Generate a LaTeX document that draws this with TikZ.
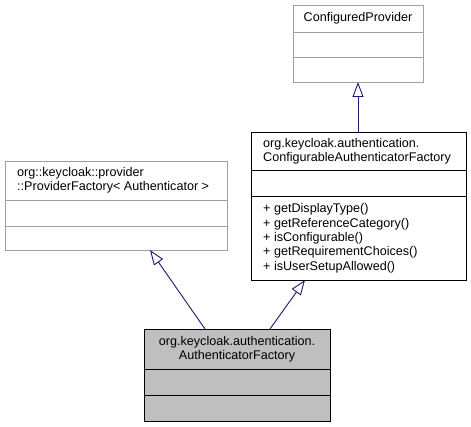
\documentclass[tikz,border=0pt]{standalone}
\usepackage{fontspec}
\setmainfont{Liberation Sans}
\usetikzlibrary{arrows.meta}
\definecolor{edgeblue}{HTML}{191970}
\definecolor{greyline}{HTML}{A0A0A0}
\definecolor{fillgrey}{HTML}{BFBFBF}
\tikzset{
  x=1pt, y=-1pt,
  classbox/.style={draw=black, line width=1pt, minimum width=#1, inner sep=0pt, anchor=north west},
  greybox/.style={draw=greyline, line width=0.9pt, inner sep=0pt, anchor=north west},
  txt/.style={font=\fontsize{12.6}{14.3}\selectfont, inner sep=0pt, align=left},
  ctxt/.style={font=\fontsize{12.6}{14.3}\selectfont, inner sep=0pt, align=center},
  inherit/.style={draw=edgeblue, line width=0.9pt, -{Triangle[open, length=15pt, width=11pt, fill=white]}},
}
\begin{document}
\begin{tikzpicture}
\useasboundingbox (0,0) rectangle (471,427);
% ConfiguredProvider
\node[greybox, minimum width=130pt, minimum height=77pt] (cp) at (293,5) {};
\draw[greyline, line width=0.9pt] (293,32) -- (423,32) (293,57) -- (423,57);
\node[ctxt] (cpname) at (358,18) {ConfiguredProvider};
% ConfigurableAuthenticatorFactory
\node[classbox=215pt, minimum height=148pt] (caf) at (251,132) {};
\draw[black, line width=1pt] (251,171) -- (466,171) (251,197) -- (466,197);
\node[txt, anchor=west] (cafname) at (263,151) {org.keycloak.authentication.\\ConfigurableAuthenticatorFactory};
\node[txt, anchor=north west] (cafops) at (263,203.5) {+ getDisplayType()\\+ getReferenceCategory()\\+ isConfigurable()\\+ getRequirementChoices()\\+ isUserSetupAllowed()};
% ProviderFactory
\node[greybox, minimum width=222pt, minimum height=89pt] (pf) at (5,161) {};
\draw[greyline, line width=0.9pt] (5,200) -- (227,200) (5,226) -- (227,226);
\node[txt, anchor=west] (pfname) at (17,180) {org::keycloak::provider\\::ProviderFactory< Authenticator >};
% AuthenticatorFactory
\node[classbox=186pt, minimum height=92pt, fill=fillgrey] (af) at (144,329) {};
\draw[black, line width=1pt] (144,369) -- (330,369) (144,395) -- (330,395);
\node[ctxt] (afname) at (237,349) {org.keycloak.authentication.\\AuthenticatorFactory};
% inheritance
\coordinate (cafTop) at (358,132);
\coordinate (cpBot) at (358,82);
\coordinate (afTopL) at (205,329);
\coordinate (pfBot) at (150,250);
\coordinate (afTopR) at (270,329);
\coordinate (cafBot) at (305,280);
\draw[inherit] (cafTop) -- (cpBot);
\draw[inherit] (afTopL) -- (pfBot);
\draw[inherit] (afTopR) -- (cafBot);
\end{tikzpicture}
\end{document}
